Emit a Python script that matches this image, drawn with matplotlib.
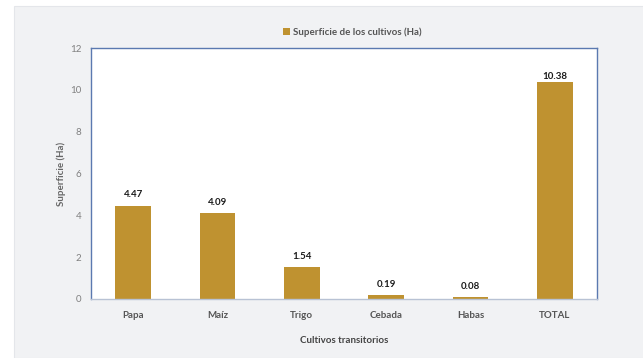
import matplotlib.pyplot as plt
from matplotlib.patches import Rectangle

# superficie por cultivo transitorio
cultivos = ["Papa", "Maíz", "Trigo", "Cebada", "Habas", "TOTAL"]
superficie = [4.47, 4.09, 1.54, 0.19, 0.08, 10.38]
etiquetas = ["4.47", "4.09", "1.54", "0.19", "0.08", "10.38"]
y_ticks = [0, 2, 4, 6, 8, 10, 12]

plt.rcParams['font.family'] = ['Lato', 'DejaVu Sans']

fig = plt.figure(figsize=(6.43, 3.58), dpi=100)
fig.patch.set_facecolor('white')
# fondo gris claro del recuadro
fig.add_artist(Rectangle((14 / 643, 0), 1, 1 - 6 / 358, transform=fig.transFigure,
                         facecolor='#f1f2f4', edgecolor='#e4e6ea', lw=0.8, zorder=0))

ax = fig.add_axes([91 / 643, 59 / 358, 506 / 643, 251 / 358])
ax.set_facecolor('white')

x = range(len(cultivos))
bars = ax.bar(x, superficie, width=0.42, color='#bf9230',
              label='Superficie de los cultivos (Ha)', zorder=2)

for xi, v, t in zip(x, superficie, etiquetas):
    off = 0.05 if v > 10 else 0.3
    ax.text(xi, v + off, t, ha='center', va='bottom', fontsize=7,
            fontweight='bold', color='#1a1a1a', zorder=3)

ax.set_xlim(-0.5, len(cultivos) - 0.5)
ax.set_ylim(0, 12)
ax.set_yticks(y_ticks)
ax.set_xticks(list(x))
ax.set_xticklabels(cultivos, fontsize=7, fontweight='bold', color='#555555')
ax.tick_params(axis='y', labelsize=7, labelcolor='#808080', length=0, pad=7)
ax.tick_params(axis='x', length=0, pad=9)

for s in ax.spines.values():
    s.set_color('#5b79b0')
    s.set_linewidth(1.0)
ax.spines['bottom'].set_color('#b8c2d4')

ax.set_ylabel('Superficie (Ha)', fontsize=7, fontweight='bold', color='#666666', labelpad=3)
ax.set_xlabel('Cultivos transitorios', fontsize=7, fontweight='bold', color='#444444', labelpad=11)

fig.legend(handles=[bars], loc='center', bbox_to_anchor=(352 / 643, 1 - 32 / 358),
           frameon=False, handlelength=0.7, handleheight=0.7,
           handletextpad=0.3, prop={'weight': 'bold', 'size': 7})
for t in fig.legends[0].get_texts():
    t.set_color('#555555')

fig.savefig('out.png', dpi=100, facecolor=fig.get_facecolor())
